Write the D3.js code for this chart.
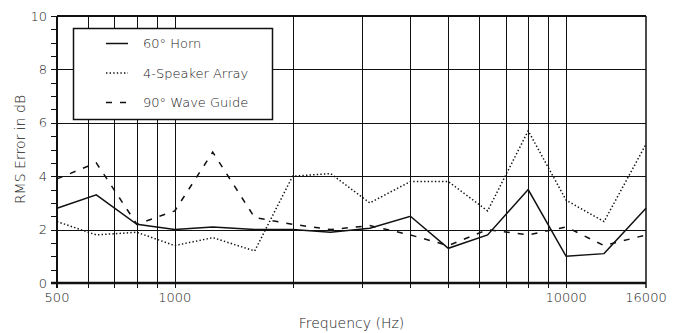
<!DOCTYPE html>
<html>
<head>
<meta charset="utf-8">
<script src="https://cdn.jsdelivr.net/npm/d3@7"></script>
<style>
  body { margin: 0; background: #fff; }
  text { font-family: "DejaVu Sans ExtraLight", "DejaVu Sans", sans-serif; font-weight: 200; fill: #222; }
</style>
</head>
<body>
<svg width="679" height="333"></svg>
<script>
// 1/3-octave band centres
const freqs = [500, 630, 800, 1000, 1250, 1600, 2000, 2500, 3150, 4000, 5000, 6300, 8000, 10000, 12500, 16000];
const horn60 = [2.8, 3.3, 2.2, 2.0, 2.1, 2.0, 2.0, 1.9, 2.05, 2.5, 1.3, 1.8, 3.5, 1.0, 1.1, 2.8];
const array4 = [2.3, 1.8, 1.9, 1.4, 1.7, 1.2, 4.0, 4.1, 3.0, 3.8, 3.8, 2.7, 5.7, 3.1, 2.3, 5.2];
const waveGuide90 = [3.9, 4.5, 2.2, 2.7, 4.9, 2.45, 2.2, 2.0, 2.15, 1.8, 1.4, 2.0, 1.8, 2.1, 1.4, 1.8];

const gridFreqs = [600, 700, 800, 900, 1000, 2000, 3000, 4000, 5000, 6000, 7000, 8000, 9000, 10000];
const xTickLabels = [500, 1000, 10000, 16000];
const yTicks = [0, 2, 4, 6, 8, 10];

const series = [
  { name: "60\u00b0 Horn", values: horn60, dash: null },
  { name: "4-Speaker Array", values: array4, dash: "1.4,2.2" },
  { name: "90\u00b0 Wave Guide", values: waveGuide90, dash: "6,8" }
];

const svg = d3.select("svg");
const margin = { top: 16, right: 33, bottom: 50, left: 57 };
const width = 679 - margin.left - margin.right;
const height = 333 - margin.top - margin.bottom;

const x = d3.scaleLog().domain([500, 16000]).range([0, width]);
const y = d3.scaleLinear().domain([0, 10]).range([height, 0]);

const g = svg.append("g").attr("transform", "translate(" + margin.left + "," + margin.top + ")");

// vertical grid
g.selectAll(".vgrid")
  .data(gridFreqs)
  .enter()
  .append("line")
  .attr("x1", d => Math.round(x(d)) + 0.5)
  .attr("x2", d => Math.round(x(d)) + 0.5)
  .attr("y1", 0)
  .attr("y2", height + 5)
  .attr("stroke", "#111")
  .attr("stroke-width", 1);

// horizontal grid
g.selectAll(".hgrid")
  .data(yTicks.filter(d => d > 0 && d < 10))
  .enter()
  .append("line")
  .attr("x1", -6)
  .attr("x2", width)
  .attr("y1", d => Math.round(y(d)) + 0.5)
  .attr("y2", d => Math.round(y(d)) + 0.5)
  .attr("stroke", "#111")
  .attr("stroke-width", 1);

// y axis minor ticks every 0.5
g.selectAll(".ytick")
  .data(d3.range(0, 10.01, 0.5))
  .enter()
  .append("line")
  .attr("x1", -6)
  .attr("x2", 0)
  .attr("y1", d => Math.round(y(d)) + 0.5)
  .attr("y2", d => Math.round(y(d)) + 0.5)
  .attr("stroke", "#111");

// frame
g.append("line").attr("x1", 0).attr("x2", width).attr("y1", 0).attr("y2", 0)
  .attr("stroke", "#111").attr("stroke-width", 2);
g.append("line").attr("x1", width).attr("x2", width).attr("y1", 0).attr("y2", height + 5)
  .attr("stroke", "#111").attr("stroke-width", 1.5);
g.append("line").attr("x1", 0).attr("x2", 0).attr("y1", 0).attr("y2", height + 5)
  .attr("stroke", "#111").attr("stroke-width", 2);
g.append("line").attr("x1", -6).attr("x2", width).attr("y1", height).attr("y2", height)
  .attr("stroke", "#111").attr("stroke-width", 2.5);

// y labels
g.selectAll(".ylab")
  .data(yTicks)
  .enter()
  .append("text")
  .attr("x", -10)
  .attr("y", d => y(d) + 4.5)
  .attr("text-anchor", "end")
  .style("font-size", "13px")
  .text(d => d);

// x labels
g.selectAll(".xlab")
  .data(xTickLabels)
  .enter()
  .append("text")
  .attr("x", d => x(d))
  .attr("y", height + 19)
  .attr("text-anchor", "middle")
  .style("font-size", "13px")
  .text(d => d);

// axis titles
svg.append("text")
  .attr("x", margin.left + width / 2)
  .attr("y", 328)
  .attr("text-anchor", "middle")
  .style("font-size", "14px")
  .text("Frequency (Hz)");

svg.append("text")
  .attr("transform", "translate(25," + (margin.top + height / 2) + ") rotate(-90)")
  .attr("text-anchor", "middle")
  .style("font-size", "14px")
  .text("RMS Error in dB");

// series lines
const line = d3.line()
  .x(d => x(d[0]))
  .y(d => y(d[1]));

series.forEach(function (s) {
  g.append("path")
    .datum(freqs.map((f, i) => [f, s.values[i]]))
    .attr("d", line)
    .attr("fill", "none")
    .attr("stroke", "#111")
    .attr("stroke-width", 1.5)
    .attr("stroke-dasharray", s.dash);
});

// legend
const legend = g.append("g").attr("transform", "translate(16,12)");
legend.append("rect")
  .attr("x", 0.5).attr("y", 0.5)
  .attr("width", 199).attr("height", 91)
  .attr("fill", "#fff")
  .attr("stroke", "#111")
  .attr("stroke-width", 1.5);

const item = legend.selectAll(".item")
  .data(series)
  .enter()
  .append("g")
  .attr("transform", (d, i) => "translate(0," + (15.5 + i * 29.5) + ")");

item.append("line")
  .attr("x1", 33).attr("x2", 55)
  .attr("y1", 0).attr("y2", 0)
  .attr("stroke", "#111")
  .attr("stroke-width", 1.5)
  .attr("stroke-dasharray", d => d.dash);

item.append("text")
  .attr("x", 70)
  .attr("y", 4.5)
  .style("font-size", "13px")
  .text(d => d.name);
</script>
</body>
</html>
